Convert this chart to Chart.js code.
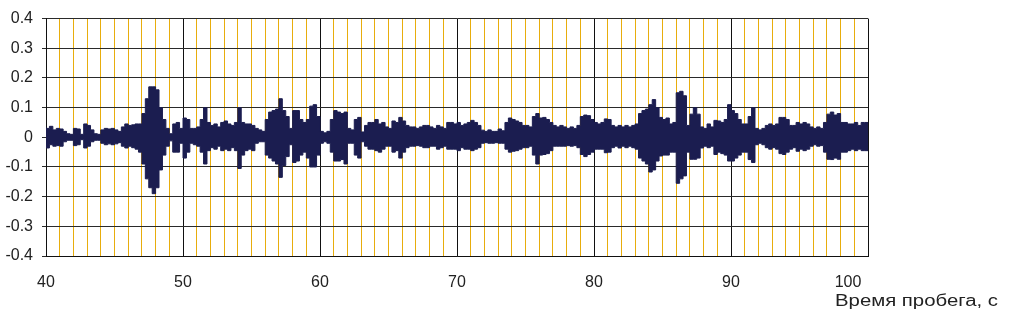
<!DOCTYPE html>
<html>
<head>
<meta charset="utf-8">
<script src="https://cdn.jsdelivr.net/npm/chart.js@4/dist/chart.umd.min.js"></script>
<style>
    html, body { margin: 0; padding: 0; background: #ffffff; }
    #wrap { width: 1009px; height: 313px; position: relative; }
</style>
</head>
<body>
<div id="wrap"><canvas id="runChart"></canvas></div>
<script>
// envelope of the signal, every 0.25 s (40 .. 99.75 s)
const startTime = 40;
const sampleStep = 0.25;

const upperPeaks = [
    0.035, 0.03, 0.037, 0.025,   0.03, 0.028, 0.02, 0.012,   0.01, 0.03, 0.028, 0.01,
    0.045, 0.04, 0.025, 0.012,   0.01, 0.025, 0.03, 0.028,   0.03, 0.025, 0.02, 0.035,
    0.045, 0.04, 0.042, 0.045,   0.045, 0.08, 0.13, 0.17,    0.17, 0.16, 0.1, 0.06,
    0.03, 0.012, 0.045, 0.05,    0.03, 0.065, 0.06, 0.03,    0.03, 0.035, 0.06, 0.1,
    0.05, 0.04, 0.045, 0.035,    0.05, 0.055, 0.045, 0.04,   0.05, 0.1, 0.05, 0.045,
    0.045, 0.04, 0.03, 0.025,    0.02, 0.06, 0.085, 0.09,    0.095, 0.13, 0.09, 0.07,
    0.03, 0.09, 0.09, 0.06,      0.05, 0.06, 0.105, 0.11,    0.07, 0.02, 0.015, 0.02,
    0.06, 0.09, 0.085, 0.08,     0.085, 0.03, 0.025, 0.06,   0.067, 0.018, 0.04, 0.05,
    0.05, 0.06, 0.045, 0.05,     0.035, 0.03, 0.055, 0.05,   0.067, 0.055, 0.04, 0.035,
    0.035, 0.03, 0.035, 0.04,    0.04, 0.035, 0.03, 0.04,    0.035, 0.03, 0.05, 0.05,
    0.045, 0.05, 0.04, 0.045,    0.05, 0.057, 0.05, 0.04,    0.024, 0.02, 0.025, 0.02,
    0.02, 0.028, 0.022, 0.05,    0.065, 0.06, 0.055, 0.05,   0.04, 0.04, 0.035, 0.07,
    0.08, 0.065, 0.067, 0.06,    0.05, 0.04, 0.035, 0.04,    0.035, 0.03, 0.035, 0.03,
    0.04, 0.07, 0.075, 0.073,    0.06, 0.05, 0.045, 0.05,    0.062, 0.06, 0.04, 0.035,
    0.04, 0.035, 0.04, 0.035,    0.04, 0.045, 0.08, 0.09,    0.095, 0.11, 0.127, 0.1,
    0.067, 0.06, 0.065, 0.045,   0.05, 0.15, 0.155, 0.14,    0.04, 0.078, 0.1, 0.078,
    0.035, 0.03, 0.045, 0.035,   0.057, 0.055, 0.05, 0.06,   0.11, 0.09, 0.08, 0.06,
    0.045, 0.045, 0.07, 0.1,     0.03, 0.025, 0.03, 0.04,    0.045, 0.04, 0.045, 0.067,
    0.067, 0.06, 0.04, 0.04,     0.05, 0.045, 0.05, 0.045,   0.035, 0.03, 0.035, 0.03,
    0.05, 0.078, 0.085, 0.075,   0.08, 0.05, 0.05, 0.045,    0.045, 0.05, 0.04, 0.05
];

const lowerPeaks = [
    -0.03, -0.036, -0.025, -0.03,    -0.028, -0.03, -0.015, -0.01,    -0.01, -0.028, -0.025, -0.008,
    -0.036, -0.03, -0.015, -0.01,    -0.01, -0.02, -0.025, -0.022,    -0.025, -0.022, -0.018, -0.03,
    -0.036, -0.03, -0.035, -0.04,    -0.05, -0.09, -0.14, -0.17,      -0.19, -0.17, -0.11, -0.06,
    -0.03, -0.012, -0.05, -0.05,     -0.02, -0.07, -0.05, -0.02,      -0.025, -0.03, -0.05, -0.09,
    -0.045, -0.035, -0.04, -0.03,    -0.045, -0.04, -0.045, -0.035,   -0.045, -0.105, -0.06, -0.045,
    -0.04, -0.045, -0.02, -0.015,    -0.015, -0.06, -0.07, -0.08,     -0.09, -0.135, -0.095, -0.065,
    -0.025, -0.085, -0.08, -0.06,    -0.05, -0.07, -0.1, -0.1,        -0.06, -0.02, -0.015, -0.02,
    -0.05, -0.08, -0.08, -0.075,     -0.09, -0.02, -0.02, -0.06,      -0.07, -0.015, -0.03, -0.04,
    -0.04, -0.045, -0.05, -0.04,     -0.03, -0.03, -0.05, -0.045,     -0.07, -0.05, -0.035, -0.03,
    -0.03, -0.028, -0.03, -0.035,    -0.035, -0.03, -0.03, -0.04,     -0.035, -0.03, -0.04, -0.04,
    -0.04, -0.045, -0.035, -0.04,    -0.04, -0.045, -0.04, -0.035,    -0.02, -0.018, -0.02, -0.02,
    -0.018, -0.02, -0.02, -0.04,     -0.05, -0.047, -0.045, -0.04,    -0.035, -0.035, -0.03, -0.06,
    -0.09, -0.06, -0.058, -0.055,    -0.045, -0.03, -0.03, -0.03,     -0.03, -0.028, -0.03, -0.028,
    -0.035, -0.058, -0.065, -0.058,  -0.05, -0.04, -0.04, -0.04,      -0.052, -0.05, -0.035, -0.03,
    -0.036, -0.03, -0.035, -0.03,    -0.035, -0.04, -0.07, -0.08,     -0.09, -0.117, -0.11, -0.08,
    -0.063, -0.06, -0.06, -0.05,     -0.05, -0.155, -0.14, -0.13,     -0.05, -0.074, -0.074, -0.07,
    -0.036, -0.03, -0.035, -0.03,    -0.058, -0.05, -0.055, -0.06,    -0.08, -0.08, -0.07, -0.06,
    -0.05, -0.05, -0.075, -0.085,    -0.025, -0.02, -0.025, -0.035,   -0.04, -0.035, -0.04, -0.055,
    -0.058, -0.05, -0.04, -0.035,    -0.047, -0.04, -0.045, -0.04,    -0.03, -0.025, -0.03, -0.028,
    -0.05, -0.074, -0.075, -0.07,    -0.074, -0.05, -0.05, -0.045,    -0.04, -0.045, -0.04, -0.045
];

const xLabels = [40, 50, 60, 70, 80, 90, 100];
const xTitle = 'Время пробега, с';

const navy = '#1b1d50';

// upper and lower envelope as two stepped lines, the band between them filled solid
const upperPoints = upperPeaks.map((v, i) => ({ x: startTime + i * sampleStep, y: v }));
const lowerPoints = lowerPeaks.map((v, i) => ({ x: startTime + i * sampleStep, y: v }));
// the trace runs right up to the 100 s border
upperPoints.push({ x: 100, y: upperPeaks[upperPeaks.length - 1] });
lowerPoints.push({ x: 100, y: lowerPeaks[lowerPeaks.length - 1] });

const labelFont = '16px "Liberation Sans", Arial, sans-serif';

// x labels and axis title drawn by hand: Excel pulls the last label inward
const xLabelPlugin = {
    id: 'xLabels',
    afterDraw(chart) {
        const ctx = chart.ctx;
        const xs = chart.scales.x;
        ctx.save();
        ctx.fillStyle = '#222222';
        ctx.font = labelFont;
        ctx.textAlign = 'center';
        ctx.textBaseline = 'alphabetic';
        xLabels.forEach((v, i) => {
            let px = xs.getPixelForValue(v);
            if (i === xLabels.length - 1) px -= 20;
            ctx.fillText(String(v), px, 287);
        });
        ctx.textAlign = 'left';
        const w = ctx.measureText(xTitle).width;
        ctx.translate(835, 306);
        ctx.scale(163 / w, 1);
        ctx.fillText(xTitle, 0, 0);
        ctx.restore();
    }
};

const ctx = document.getElementById('runChart').getContext('2d');

new Chart(ctx, {
    type: 'line',
    data: {
        datasets: [
            {
                data: upperPoints,
                borderColor: navy,
                backgroundColor: navy,
                fill: '+1',
                stepped: 'after',
                borderWidth: 1,
                pointRadius: 0,
                pointHoverRadius: 0
            },
            {
                data: lowerPoints,
                borderColor: navy,
                backgroundColor: navy,
                fill: false,
                stepped: 'after',
                borderWidth: 1,
                pointRadius: 0,
                pointHoverRadius: 0
            }
        ]
    },
    options: {
        responsive: true,
        maintainAspectRatio: false,
        animation: false,
        events: [],
        layout: {
            padding: { top: 12, right: 141, bottom: 0, left: 0 }
        },
        plugins: {
            legend: { display: false },
            tooltip: { enabled: false }
        },
        scales: {
            x: {
                type: 'linear',
                min: 40,
                max: 100,
                afterFit: scale => { scale.height = 57; },
                ticks: {
                    display: false,
                    stepSize: 1,
                    maxTicksLimit: 100
                },
                grid: {
                    drawTicks: false,
                    lineWidth: 1,
                    color: c => (Math.abs(c.tick.value % 10) < 1e-6 ? '#111111' : '#e8ad0c')
                },
                border: { color: '#111111' }
            },
            y: {
                min: -0.4,
                max: 0.4,
                afterFit: scale => { scale.width = 46; },
                ticks: {
                    stepSize: 0.1,
                    padding: 9,
                    color: '#222222',
                    font: { size: 16, family: '"Liberation Sans", Arial, sans-serif' },
                    callback: v => String(Math.round(v * 10) / 10)
                },
                grid: {
                    tickLength: 4,
                    color: '#2a2a2a'
                },
                border: { color: '#111111' }
            }
        }
    },
    plugins: [xLabelPlugin]
});
</script>
</body>
</html>
